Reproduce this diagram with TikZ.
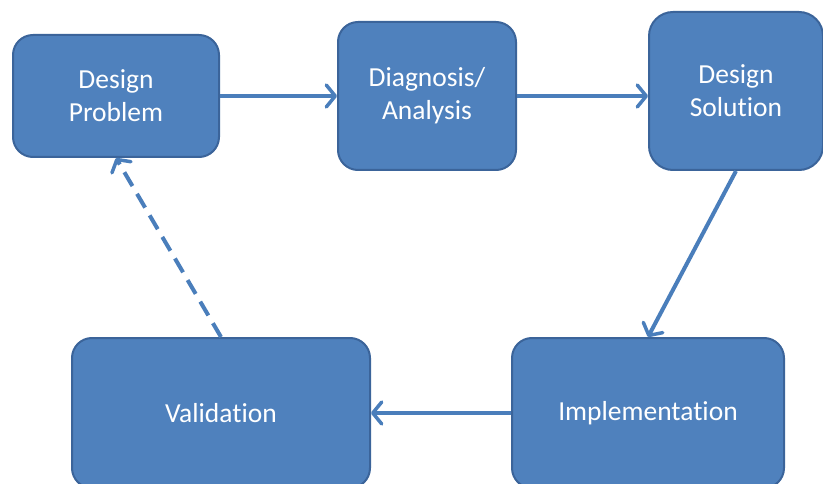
\documentclass[tikz,border=0pt]{standalone}
\usepackage{fontspec}
\setmainfont{Carlito}[Ligatures=NoCommon]
\usetikzlibrary{arrows.meta}
\definecolor{boxfill}{HTML}{4F81BD}
\definecolor{boxline}{HTML}{3B649A}
\definecolor{arrowc}{HTML}{4A7EBB}
\begin{document}
\begin{tikzpicture}[x=1pt,y=-1pt,
  stagebox/.style={draw=boxline, line width=2pt, fill=boxfill, rounded corners=20pt,
    text=white, align=center, inner sep=0pt,
    font=\fontsize{27.5}{33}\selectfont},
  flow/.style={draw=arrowc, line width=4pt,
    -{Straight Barb[length=9pt,width=22pt,line width=3.5pt,round]}},
  backflow/.style={flow, dash pattern=on 16pt off 9pt}
]
\useasboundingbox (0,0) rectangle (823,484);
\begin{scope}
\clip (0,0) rectangle (823,484);
\node[stagebox, minimum width=206pt, minimum height=122pt] (dp) at (116,96) {Design\\Problem};
\node[stagebox, minimum width=178pt, minimum height=148pt] (da) at (427,96) {Diagnosis/\\Analysis};
\node[stagebox, minimum width=174pt, minimum height=158pt, rounded corners=24pt] (ds) at (736,91) {Design\\Solution};
\node[stagebox, minimum width=298pt, minimum height=150pt] (val) at (221,413) {Validation};
\node[stagebox, minimum width=272pt, minimum height=150pt] (imp) at (648,413) {Implementation};
\end{scope}
\draw[flow] (dp.east) -- (da.west);
\draw[flow] (da.east) -- (da.east -| ds.west);
\draw[flow] (ds.south) -- (imp.north);
\draw[flow] (imp.west) -- (val.east);
\draw[backflow] (val.north) -- (dp.south);
\end{tikzpicture}
\end{document}
